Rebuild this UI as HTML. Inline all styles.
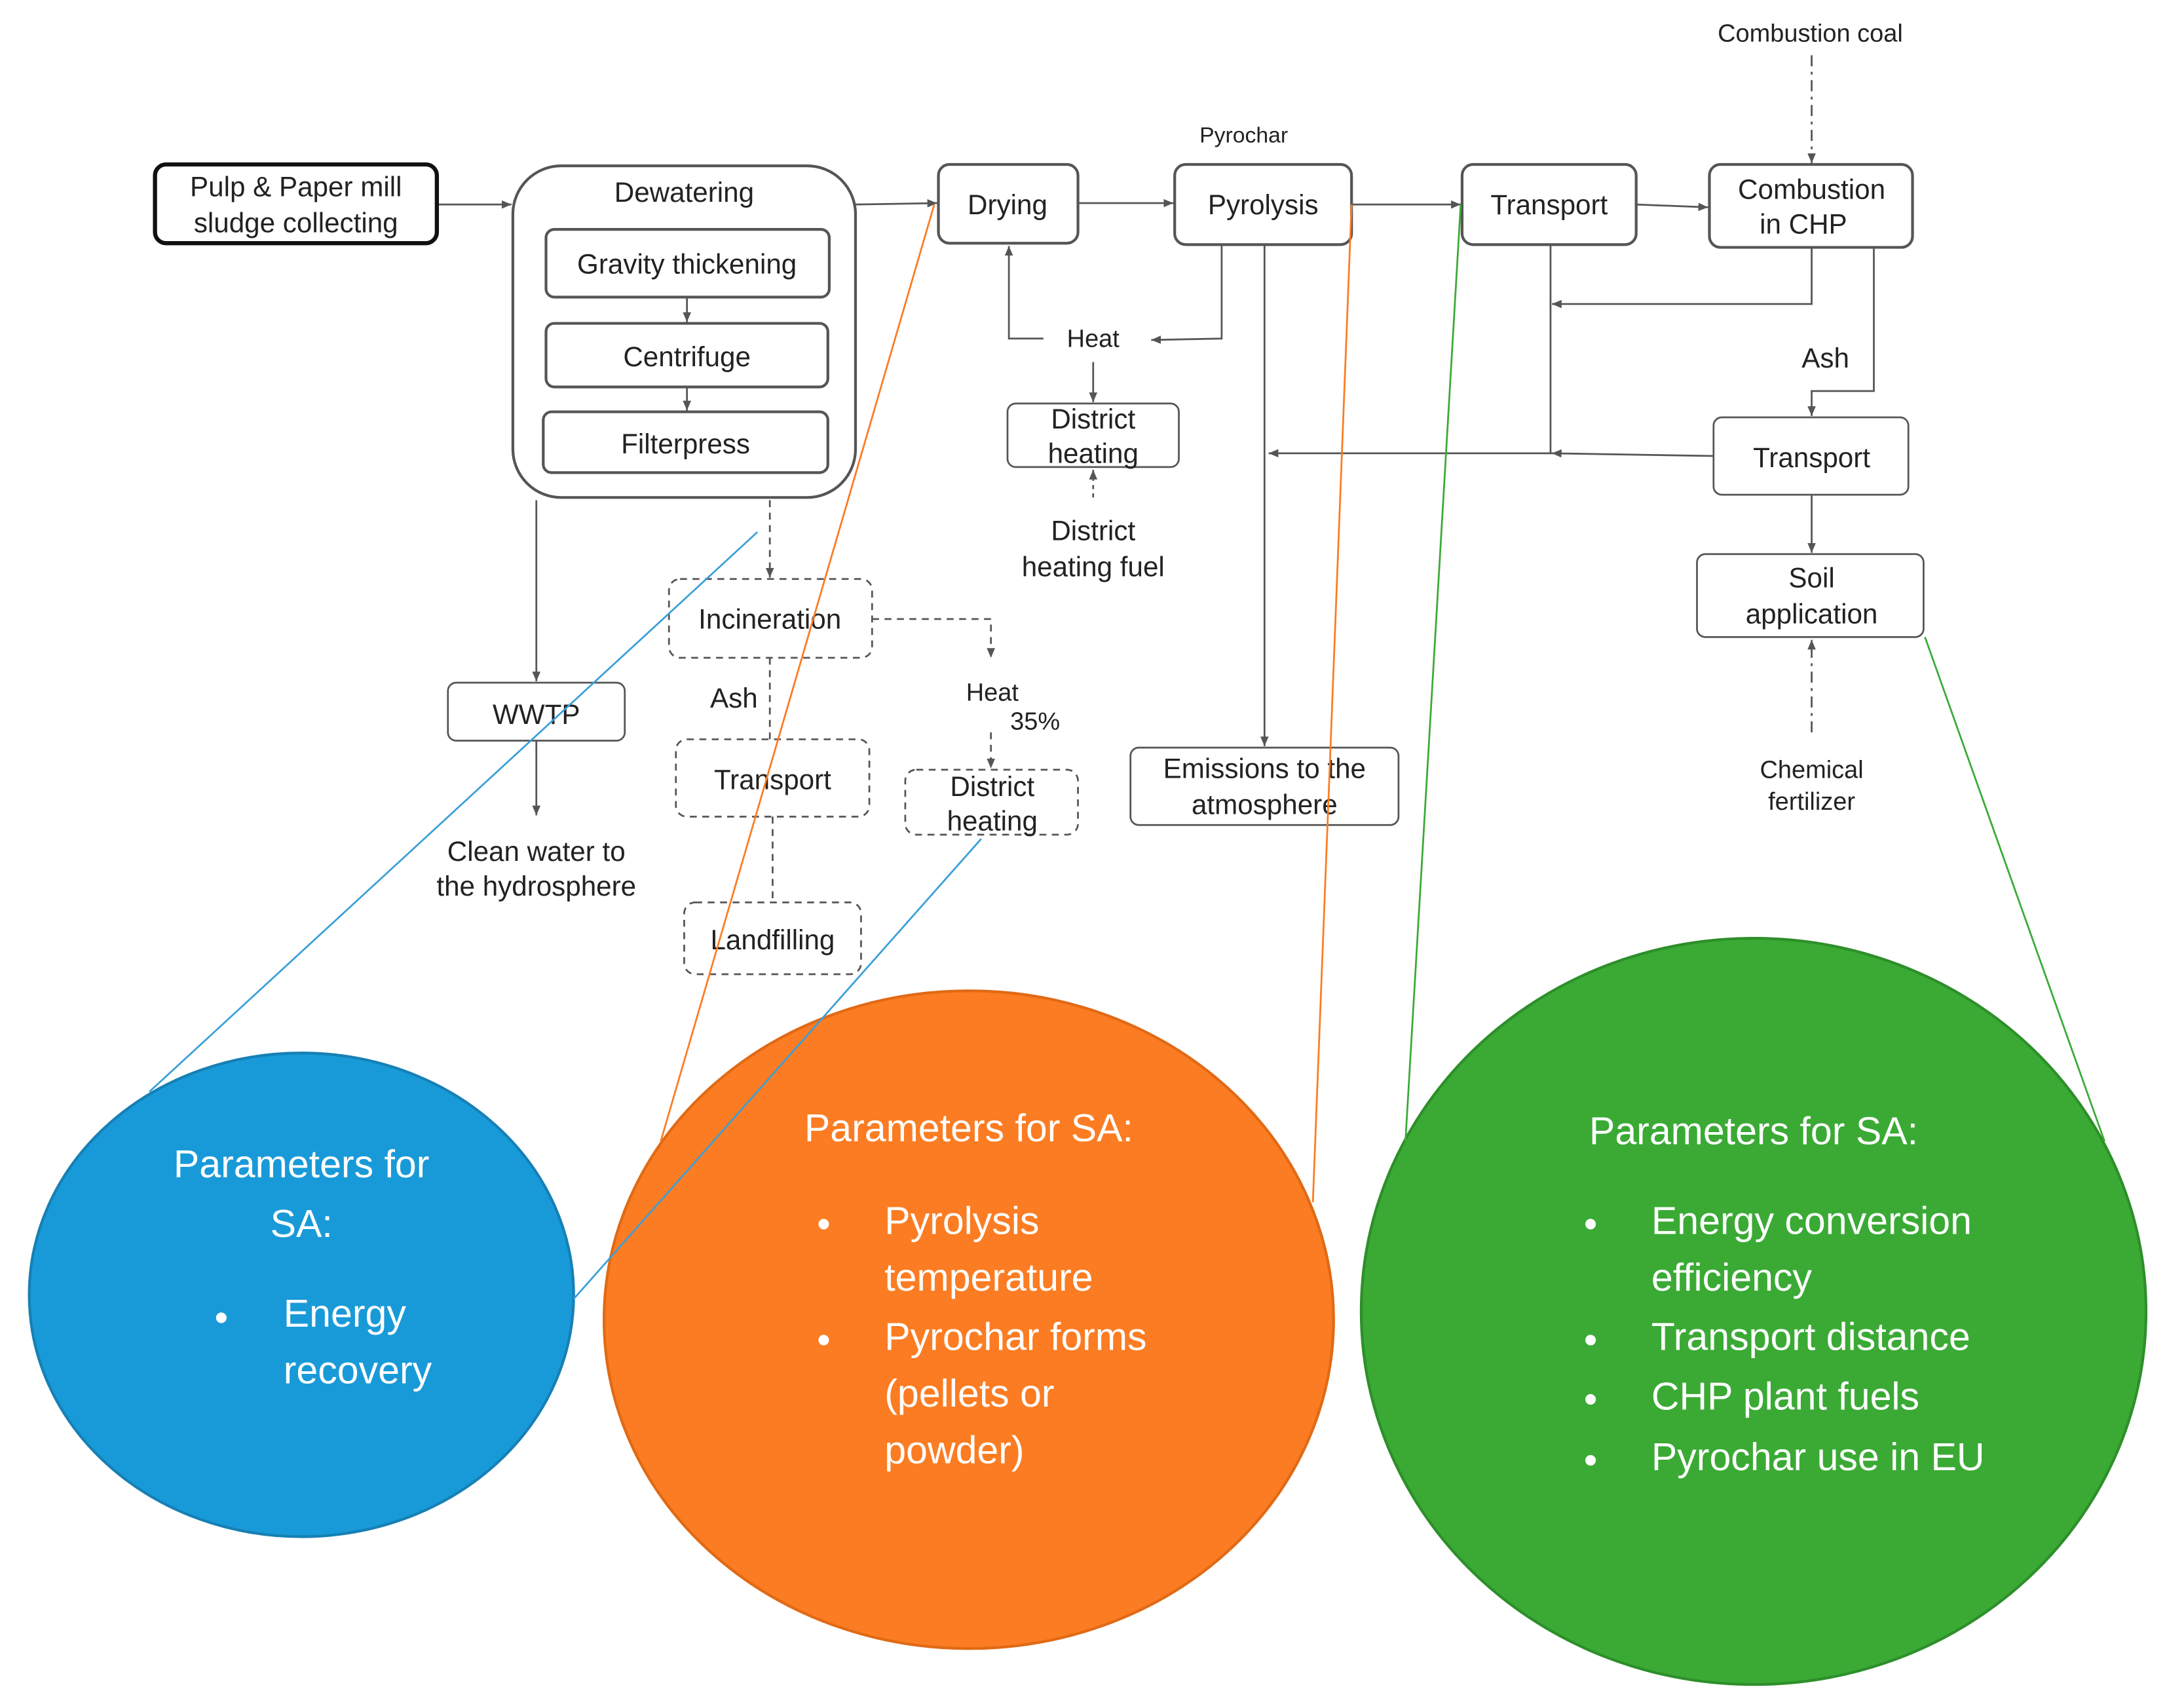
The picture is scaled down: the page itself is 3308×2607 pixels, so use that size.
<!DOCTYPE html>
<html><head><meta charset="utf-8"><style>html,body{margin:0;padding:0;background:#fff}svg{display:block}</style></head>
<body>
<svg width="3308" height="2607" viewBox="0 0 1568 1236" xmlns="http://www.w3.org/2000/svg" font-family="Liberation Sans, sans-serif">
<defs>
<marker id="a" markerWidth="8" markerHeight="8" refX="7" refY="4" orient="auto" markerUnits="userSpaceOnUse"><path d="M0,1 L7,4 L0,7 z" fill="#555"/></marker>
</defs>
<g fill="none" stroke="#555" stroke-width="1.3">
<!-- main flow -->
<line x1="316" y1="148" x2="370" y2="148" marker-end="url(#a)"/>
<line x1="497" y1="215" x2="497" y2="233" marker-end="url(#a)"/>
<line x1="497" y1="280" x2="497" y2="297" marker-end="url(#a)"/>
<line x1="619" y1="148" x2="678" y2="147" marker-end="url(#a)"/>
<line x1="780" y1="147" x2="849" y2="147" marker-end="url(#a)"/>
<line x1="978" y1="148" x2="1057" y2="148" marker-end="url(#a)"/>
<line x1="1184" y1="148" x2="1236" y2="150" marker-end="url(#a)"/>
<line x1="1311" y1="40" x2="1311" y2="118" stroke-dasharray="8,4,2,4" marker-end="url(#a)"/>
<polyline points="1311,179 1311,220 1123,220" marker-end="url(#a)"/>
<line x1="1122" y1="177" x2="1122" y2="328"/>
<polyline points="1356,180 1356,283 1311,283 1311,301" marker-end="url(#a)"/>
<line x1="1240" y1="330" x2="1123" y2="328" marker-end="url(#a)"/>
<line x1="1123" y1="328" x2="918" y2="328" marker-end="url(#a)"/>
<line x1="915" y1="177" x2="915" y2="540" marker-end="url(#a)"/>
<line x1="1311" y1="358" x2="1311" y2="400" marker-end="url(#a)"/>
<line x1="1311" y1="530" x2="1311" y2="463" stroke-dasharray="8,4,2,4" marker-end="url(#a)"/>
<polyline points="884,177 884,245 833,246" marker-end="url(#a)"/>
<polyline points="755,245 730,245 730,178" marker-end="url(#a)"/>
<line x1="791" y1="262" x2="791" y2="291" marker-end="url(#a)"/>
<line x1="791" y1="360" x2="791" y2="340" stroke-dasharray="3,3" marker-end="url(#a)"/>
<line x1="388" y1="362" x2="388" y2="493" marker-end="url(#a)"/>
<line x1="388" y1="536" x2="388" y2="590" marker-end="url(#a)"/>
<g stroke-dasharray="5,4">
<line x1="557" y1="362" x2="557" y2="418" marker-end="url(#a)"/>
<polyline points="631,448 717,448 717,476" marker-end="url(#a)"/>
<line x1="717" y1="530" x2="717" y2="556" marker-end="url(#a)"/>
<line x1="557" y1="476" x2="557" y2="535"/>
<line x1="559" y1="591" x2="559" y2="652"/>
</g>
<!-- boxes -->
<rect x="112" y="119" width="204" height="57" rx="8" stroke="#111" stroke-width="3"/>
<rect x="371" y="120" width="248" height="240" rx="35" stroke-width="2"/>
<rect x="395" y="166" width="205" height="49" rx="6" stroke-width="2"/>
<rect x="395" y="234" width="204" height="46" rx="6" stroke-width="2"/>
<rect x="393" y="298" width="206" height="44" rx="6" stroke-width="2"/>
<rect x="679" y="119" width="101" height="57" rx="8" stroke-width="2"/>
<rect x="850" y="119" width="128" height="58" rx="8" stroke-width="2"/>
<rect x="1058" y="119" width="126" height="58" rx="8" stroke-width="2"/>
<rect x="1237" y="119" width="147" height="60" rx="8" stroke-width="2"/>
<rect x="1240" y="302" width="141" height="56" rx="6"/>
<rect x="818" y="541" width="194" height="56" rx="6"/>
<rect x="1228" y="401" width="164" height="60" rx="6"/>
<rect x="729" y="292" width="124" height="46" rx="6"/>
<rect x="324" y="494" width="128" height="42" rx="6"/>
<g stroke-dasharray="5,4">
<rect x="484" y="419" width="147" height="57" rx="8"/>
<rect x="489" y="535" width="140" height="56" rx="8"/>
<rect x="495" y="653" width="128" height="52" rx="8"/>
<rect x="655" y="557" width="125" height="47" rx="8"/>
</g>
</g>
<g fill="#222" font-size="20" text-anchor="middle">
<text x="214" y="142">Pulp &amp; Paper mill</text><text x="214" y="168">sludge collecting</text>
<text x="495" y="146">Dewatering</text>
<text x="497" y="198">Gravity thickening</text>
<text x="497" y="265">Centrifuge</text>
<text x="496" y="328">Filterpress</text>
<text x="729" y="155">Drying</text>
<text x="914" y="155">Pyrolysis</text>
<text x="900" y="103" font-size="16">Pyrochar</text>
<text x="1121" y="155">Transport</text>
<text x="1311" y="144">Combustion</text><text x="1305" y="169">in CHP</text>
<text x="1310" y="30" font-size="18">Combustion coal</text>
<text x="1321" y="266">Ash</text>
<text x="1311" y="338">Transport</text>
<text x="915" y="563">Emissions to the</text><text x="915" y="589">atmosphere</text>
<text x="1311" y="425">Soil</text><text x="1311" y="451">application</text>
<text x="1311" y="563" font-size="18">Chemical</text><text x="1311" y="586" font-size="18">fertilizer</text>
<text x="791" y="251" font-size="18">Heat</text>
<text x="791" y="310">District</text><text x="791" y="335">heating</text>
<text x="791" y="391">District</text><text x="791" y="417">heating fuel</text>
<text x="388" y="524">WWTP</text>
<text x="388" y="623">Clean water to</text><text x="388" y="648">the hydrosphere</text>
<text x="557" y="455">Incineration</text>
<text x="718" y="507" font-size="18">Heat</text><text x="749" y="528" font-size="18">35%</text>
<text x="718" y="576">District</text><text x="718" y="601">heating</text>
<text x="531" y="512">Ash</text>
<text x="559" y="571">Transport</text>
<text x="559" y="687">Landfilling</text>
</g>
<!-- circles -->
<ellipse cx="218" cy="937" rx="197" ry="175" fill="#199ad8" stroke="#1680b5" stroke-width="2"/>
<ellipse cx="701" cy="955" rx="264" ry="238" fill="#fb7c22" stroke="#e06a15" stroke-width="2"/>
<ellipse cx="1269" cy="949" rx="284" ry="270" fill="#3aaa35" stroke="#2e8f2a" stroke-width="2"/>
<g stroke-width="1.3" fill="none">
<line x1="548" y1="385" x2="108" y2="790" stroke="#3a9fd8"/>
<line x1="710" y1="607" x2="415" y2="940" stroke="#3a9fd8"/>
<line x1="676" y1="148" x2="478" y2="826" stroke="#fb7c22"/>
<line x1="978" y1="148" x2="950" y2="870" stroke="#fb7c22"/>
<line x1="1057" y1="148" x2="1017" y2="826" stroke="#3aaa35"/>
<line x1="1393" y1="461" x2="1523" y2="826" stroke="#3aaa35"/>
</g>
<g fill="#fff" font-size="28">
<text x="218" y="852" text-anchor="middle">Parameters for</text>
<text x="218" y="895" text-anchor="middle">SA:</text>
<text x="160" y="963" text-anchor="middle">•</text>
<text x="205" y="960">Energy</text><text x="205" y="1001">recovery</text>
<text x="701" y="826" text-anchor="middle">Parameters for SA:</text>
<text x="596" y="895" text-anchor="middle">•</text><text x="596" y="979" text-anchor="middle">•</text>
<text x="640" y="893">Pyrolysis</text><text x="640" y="934">temperature</text>
<text x="640" y="977">Pyrochar forms</text><text x="640" y="1018">(pellets or</text><text x="640" y="1059">powder)</text>
<text x="1269" y="828" text-anchor="middle">Parameters for SA:</text>
<text x="1151" y="895" text-anchor="middle">•</text><text x="1151" y="979" text-anchor="middle">•</text>
<text x="1151" y="1022" text-anchor="middle">•</text><text x="1151" y="1066" text-anchor="middle">•</text>
<text x="1195" y="893">Energy conversion</text><text x="1195" y="934">efficiency</text>
<text x="1195" y="977">Transport distance</text>
<text x="1195" y="1020">CHP plant fuels</text>
<text x="1195" y="1064">Pyrochar use in EU</text>
</g>
</svg>
</body></html>
